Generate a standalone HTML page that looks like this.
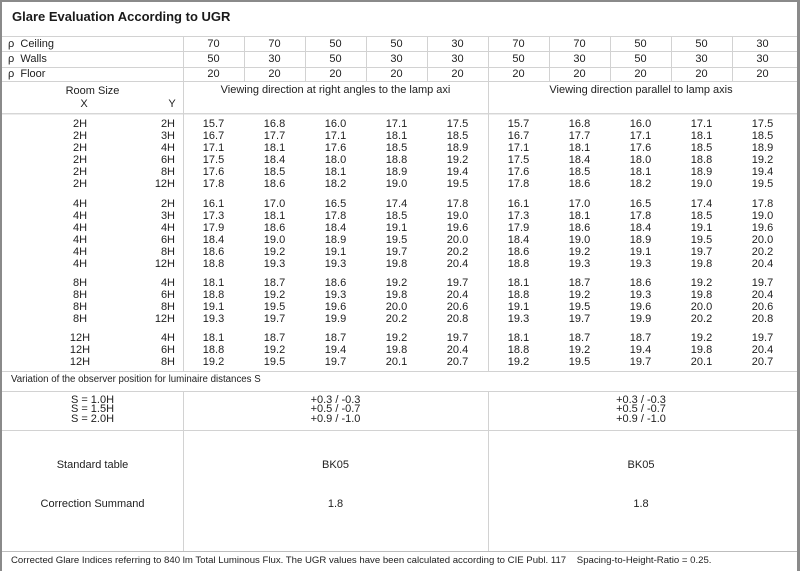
<!DOCTYPE html>
<html><head><meta charset="utf-8">
<style>
html,body{margin:0;padding:0;background:#fff;}
body{width:800px;height:571px;position:relative;overflow:hidden;font-family:"Liberation Sans",Arial,sans-serif;font-size:11px;color:#1e1e1e;}
.bl{position:absolute;left:0;top:0;width:2px;height:571px;background:#8a8a8a;}
.br{position:absolute;left:797px;top:0;width:3px;height:571px;background:#8a8a8a;}
.bt{position:absolute;left:0;top:0;width:800px;height:2px;background:#8a8a8a;}
.h{position:absolute;left:2px;width:795px;height:1px;background:#d2d2d2;}
.v{position:absolute;width:1px;background:#d2d2d2;}
.t{position:absolute;height:14px;line-height:14px;white-space:nowrap;}
.c{text-align:center;}
.title{position:absolute;left:12px;top:9px;font-weight:bold;font-size:13px;line-height:16px;color:#1a1a1a;}
.r{position:absolute;left:0;height:14px;line-height:14px;display:flex;white-space:nowrap;}
.r span{flex:none;display:block;}
.r .x{margin-left:40px;width:80px;text-align:center;}
.r .y{width:55px;text-align:right;margin-right:8px;}
.r .n{width:61px;text-align:center;}
.r .lab{width:175px;padding-left:8px;text-align:left;}
.s{position:absolute;line-height:9.6px;text-align:center;white-space:nowrap;}
</style></head><body>
<div class="bl"></div><div class="br"></div><div class="bt"></div>
<div class="title">Glare Evaluation According to UGR</div>

<!-- horizontal lines -->
<div class="h" style="top:36px"></div>
<div class="h" style="top:51px"></div>
<div class="h" style="top:67px"></div>
<div class="h" style="top:81px"></div>
<div class="h" style="top:113px;background:#d6d6d6"></div>
<div class="h" style="top:114px;background:#ececec"></div>
<div class="h" style="top:371px"></div>
<div class="h" style="top:391px"></div>
<div class="h" style="top:430px"></div>
<div class="h" style="top:551px;background:#bdbdbd"></div>

<!-- vertical lines -->
<div class="v" style="left:183px;top:36px;height:335px"></div>
<div class="v" style="left:183px;top:391px;height:160px"></div>
<div class="v" style="left:488px;top:36px;height:335px"></div>
<div class="v" style="left:488px;top:391px;height:160px"></div>
<div class="v" style="left:244px;top:36px;height:45px"></div>
<div class="v" style="left:305px;top:36px;height:45px"></div>
<div class="v" style="left:366px;top:36px;height:45px"></div>
<div class="v" style="left:427px;top:36px;height:45px"></div>
<div class="v" style="left:549px;top:36px;height:45px"></div>
<div class="v" style="left:610px;top:36px;height:45px"></div>
<div class="v" style="left:671px;top:36px;height:45px"></div>
<div class="v" style="left:732px;top:36px;height:45px"></div>

<!-- reflectance rows -->
<div class="r" style="top:36.5px"><span class="lab">ρ&nbsp; Ceiling</span><span class="n">70</span><span class="n">70</span><span class="n">50</span><span class="n">50</span><span class="n">30</span><span class="n">70</span><span class="n">70</span><span class="n">50</span><span class="n">50</span><span class="n">30</span></div>
<div class="r" style="top:52px"><span class="lab">ρ&nbsp; Walls</span><span class="n">50</span><span class="n">30</span><span class="n">50</span><span class="n">30</span><span class="n">30</span><span class="n">50</span><span class="n">30</span><span class="n">50</span><span class="n">30</span><span class="n">30</span></div>
<div class="r" style="top:67px"><span class="lab">ρ&nbsp; Floor</span><span class="n">20</span><span class="n">20</span><span class="n">20</span><span class="n">20</span><span class="n">20</span><span class="n">20</span><span class="n">20</span><span class="n">20</span><span class="n">20</span><span class="n">20</span></div>

<!-- header -->
<div class="t c" style="left:2px;width:181px;top:84px">Room Size</div>
<div class="t c" style="left:74px;width:20px;top:96.5px">X</div>
<div class="t c" style="left:162px;width:20px;top:96.5px">Y</div>
<div class="t c" style="left:183px;width:305px;top:83px">Viewing direction at right angles to the lamp axi</div>
<div class="t c" style="left:488px;width:306px;top:83px">Viewing direction parallel to lamp axis</div>

<!-- data rows -->
<div class="r" style="top:116.5px"><span class="x">2H</span><span class="y">2H</span><span class="n">15.7</span><span class="n">16.8</span><span class="n">16.0</span><span class="n">17.1</span><span class="n">17.5</span><span class="n">15.7</span><span class="n">16.8</span><span class="n">16.0</span><span class="n">17.1</span><span class="n">17.5</span></div>
<div class="r" style="top:128.6px"><span class="x">2H</span><span class="y">3H</span><span class="n">16.7</span><span class="n">17.7</span><span class="n">17.1</span><span class="n">18.1</span><span class="n">18.5</span><span class="n">16.7</span><span class="n">17.7</span><span class="n">17.1</span><span class="n">18.1</span><span class="n">18.5</span></div>
<div class="r" style="top:140.8px"><span class="x">2H</span><span class="y">4H</span><span class="n">17.1</span><span class="n">18.1</span><span class="n">17.6</span><span class="n">18.5</span><span class="n">18.9</span><span class="n">17.1</span><span class="n">18.1</span><span class="n">17.6</span><span class="n">18.5</span><span class="n">18.9</span></div>
<div class="r" style="top:153px"><span class="x">2H</span><span class="y">6H</span><span class="n">17.5</span><span class="n">18.4</span><span class="n">18.0</span><span class="n">18.8</span><span class="n">19.2</span><span class="n">17.5</span><span class="n">18.4</span><span class="n">18.0</span><span class="n">18.8</span><span class="n">19.2</span></div>
<div class="r" style="top:165.1px"><span class="x">2H</span><span class="y">8H</span><span class="n">17.6</span><span class="n">18.5</span><span class="n">18.1</span><span class="n">18.9</span><span class="n">19.4</span><span class="n">17.6</span><span class="n">18.5</span><span class="n">18.1</span><span class="n">18.9</span><span class="n">19.4</span></div>
<div class="r" style="top:177.3px"><span class="x">2H</span><span class="y">12H</span><span class="n">17.8</span><span class="n">18.6</span><span class="n">18.2</span><span class="n">19.0</span><span class="n">19.5</span><span class="n">17.8</span><span class="n">18.6</span><span class="n">18.2</span><span class="n">19.0</span><span class="n">19.5</span></div>

<div class="r" style="top:196.7px"><span class="x">4H</span><span class="y">2H</span><span class="n">16.1</span><span class="n">17.0</span><span class="n">16.5</span><span class="n">17.4</span><span class="n">17.8</span><span class="n">16.1</span><span class="n">17.0</span><span class="n">16.5</span><span class="n">17.4</span><span class="n">17.8</span></div>
<div class="r" style="top:208.8px"><span class="x">4H</span><span class="y">3H</span><span class="n">17.3</span><span class="n">18.1</span><span class="n">17.8</span><span class="n">18.5</span><span class="n">19.0</span><span class="n">17.3</span><span class="n">18.1</span><span class="n">17.8</span><span class="n">18.5</span><span class="n">19.0</span></div>
<div class="r" style="top:220.9px"><span class="x">4H</span><span class="y">4H</span><span class="n">17.9</span><span class="n">18.6</span><span class="n">18.4</span><span class="n">19.1</span><span class="n">19.6</span><span class="n">17.9</span><span class="n">18.6</span><span class="n">18.4</span><span class="n">19.1</span><span class="n">19.6</span></div>
<div class="r" style="top:233px"><span class="x">4H</span><span class="y">6H</span><span class="n">18.4</span><span class="n">19.0</span><span class="n">18.9</span><span class="n">19.5</span><span class="n">20.0</span><span class="n">18.4</span><span class="n">19.0</span><span class="n">18.9</span><span class="n">19.5</span><span class="n">20.0</span></div>
<div class="r" style="top:245.2px"><span class="x">4H</span><span class="y">8H</span><span class="n">18.6</span><span class="n">19.2</span><span class="n">19.1</span><span class="n">19.7</span><span class="n">20.2</span><span class="n">18.6</span><span class="n">19.2</span><span class="n">19.1</span><span class="n">19.7</span><span class="n">20.2</span></div>
<div class="r" style="top:257.3px"><span class="x">4H</span><span class="y">12H</span><span class="n">18.8</span><span class="n">19.3</span><span class="n">19.3</span><span class="n">19.8</span><span class="n">20.4</span><span class="n">18.8</span><span class="n">19.3</span><span class="n">19.3</span><span class="n">19.8</span><span class="n">20.4</span></div>

<div class="r" style="top:275.7px"><span class="x">8H</span><span class="y">4H</span><span class="n">18.1</span><span class="n">18.7</span><span class="n">18.6</span><span class="n">19.2</span><span class="n">19.7</span><span class="n">18.1</span><span class="n">18.7</span><span class="n">18.6</span><span class="n">19.2</span><span class="n">19.7</span></div>
<div class="r" style="top:287.9px"><span class="x">8H</span><span class="y">6H</span><span class="n">18.8</span><span class="n">19.2</span><span class="n">19.3</span><span class="n">19.8</span><span class="n">20.4</span><span class="n">18.8</span><span class="n">19.2</span><span class="n">19.3</span><span class="n">19.8</span><span class="n">20.4</span></div>
<div class="r" style="top:300px"><span class="x">8H</span><span class="y">8H</span><span class="n">19.1</span><span class="n">19.5</span><span class="n">19.6</span><span class="n">20.0</span><span class="n">20.6</span><span class="n">19.1</span><span class="n">19.5</span><span class="n">19.6</span><span class="n">20.0</span><span class="n">20.6</span></div>
<div class="r" style="top:312.2px"><span class="x">8H</span><span class="y">12H</span><span class="n">19.3</span><span class="n">19.7</span><span class="n">19.9</span><span class="n">20.2</span><span class="n">20.8</span><span class="n">19.3</span><span class="n">19.7</span><span class="n">19.9</span><span class="n">20.2</span><span class="n">20.8</span></div>

<div class="r" style="top:330.7px"><span class="x">12H</span><span class="y">4H</span><span class="n">18.1</span><span class="n">18.7</span><span class="n">18.7</span><span class="n">19.2</span><span class="n">19.7</span><span class="n">18.1</span><span class="n">18.7</span><span class="n">18.7</span><span class="n">19.2</span><span class="n">19.7</span></div>
<div class="r" style="top:342.8px"><span class="x">12H</span><span class="y">6H</span><span class="n">18.8</span><span class="n">19.2</span><span class="n">19.4</span><span class="n">19.8</span><span class="n">20.4</span><span class="n">18.8</span><span class="n">19.2</span><span class="n">19.4</span><span class="n">19.8</span><span class="n">20.4</span></div>
<div class="r" style="top:355px"><span class="x">12H</span><span class="y">8H</span><span class="n">19.2</span><span class="n">19.5</span><span class="n">19.7</span><span class="n">20.1</span><span class="n">20.7</span><span class="n">19.2</span><span class="n">19.5</span><span class="n">19.7</span><span class="n">20.1</span><span class="n">20.7</span></div>

<!-- variation -->
<div class="t" style="left:11px;top:372.5px;font-size:9.7px">Variation of the observer position for luminaire distances S</div>
<div class="s" style="left:2px;width:181px;top:395.5px">S = 1.0H<br>S = 1.5H<br>S = 2.0H</div>
<div class="s" style="left:183px;width:305px;top:395.5px">+0.3 / -0.3<br>+0.5 / -0.7<br>+0.9 / -1.0</div>
<div class="s" style="left:488px;width:306px;top:395.5px">+0.3 / -0.3<br>+0.5 / -0.7<br>+0.9 / -1.0</div>

<div class="t c" style="left:2px;width:181px;top:458px">Standard table</div>
<div class="t c" style="left:183px;width:305px;top:458px">BK05</div>
<div class="t c" style="left:488px;width:306px;top:458px">BK05</div>
<div class="t c" style="left:2px;width:181px;top:497px">Correction Summand</div>
<div class="t c" style="left:183px;width:305px;top:497px">1.8</div>
<div class="t c" style="left:488px;width:306px;top:497px">1.8</div>

<!-- footer -->
<div class="t" style="left:11px;top:554px;font-size:9.6px">Corrected Glare Indices referring to 840 lm Total Luminous Flux. The UGR values have been calculated according to CIE Publ. 117&nbsp;&nbsp;&nbsp;&nbsp;Spacing-to-Height-Ratio = 0.25.</div>
</body></html>
